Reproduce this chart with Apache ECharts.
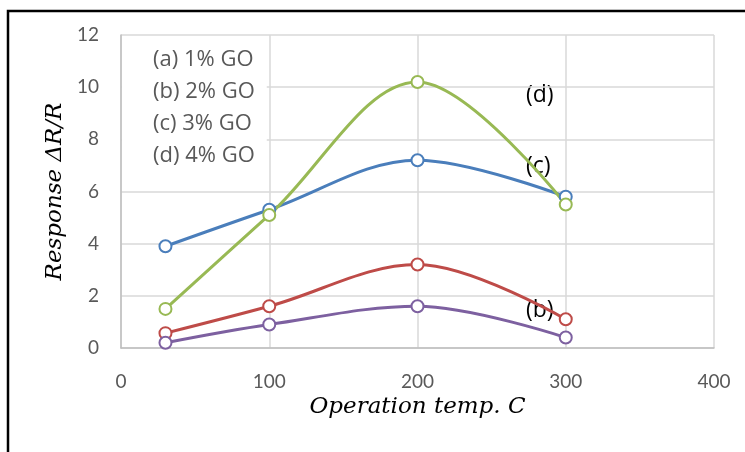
<!DOCTYPE html>
<html>
<head>
<meta charset="utf-8">
<script src="https://cdn.jsdelivr.net/npm/echarts@6/dist/echarts.min.js"></script>
<style>
  html, body { margin: 0; padding: 0; background: #fff; }
  #chart { width: 745px; height: 452px; }
</style>
</head>
<body>
<div id="chart"></div>
<script>
// operation temperature (C)
const temps = [30, 100, 200, 300];
const legendNames = ['(a) 1% GO', '(b) 2% GO', '(c) 3% GO', '(d) 4% GO'];
// response dR/R
const goA = [0.2, 0.9, 1.6, 0.4];
const goB = [0.57, 1.6, 3.2, 1.1];
const goC = [3.9, 5.3, 7.2, 5.8];
const goD = [1.5, 5.1, 10.2, 5.5];
const xTicks = [0, 100, 200, 300, 400];
const yTicks = [0, 2, 4, 6, 8, 10, 12];

const chart = echarts.init(document.getElementById('chart'));

function makeSeries(name, vals, color) {
  return {
    name: name,
    type: 'line',
    smooth: 0.35,
    data: vals.map((v, i) => [temps[i], v]),
    symbol: 'emptyCircle',
    symbolSize: 12,
    lineStyle: { color: color, width: 3 },
    itemStyle: { color: color, borderColor: color, borderWidth: 1.5 },
    emphasis: { disabled: true }
  };
}

chart.setOption({
  animation: false,
  grid: { left: 121, right: 31, top: 35, bottom: 104 },
  legend: {
    data: legendNames,
    orient: 'vertical',
    left: 122,
    top: 36,
    icon: 'none',
    itemWidth: 0,
    itemHeight: 14,
    itemGap: 8,
    padding: [12, 12, 8, 26],
    backgroundColor: '#fff',
    selectedMode: false,
    textStyle: { color: '#595959', fontSize: 22, fontFamily: 'Open Sans', lineHeight: 24 }
  },
  xAxis: {
    type: 'value',
    min: xTicks[0],
    max: xTicks[xTicks.length - 1],
    interval: 100,
    name: 'Operation temp. C',
    nameLocation: 'middle',
    nameGap: 48,
    nameTextStyle: { color: '#000', fontSize: 23, fontStyle: 'italic', fontFamily: 'DejaVu Serif' },
    axisLine: { show: true, lineStyle: { color: '#bfbfbf', width: 1.5 } },
    axisTick: { show: false },
    axisLabel: { color: '#595959', fontSize: 19, fontFamily: 'Lato', margin: 24 },
    splitLine: { show: true, lineStyle: { color: '#d9d9d9', width: 1.5 } }
  },
  yAxis: {
    type: 'value',
    min: yTicks[0],
    max: yTicks[yTicks.length - 1],
    interval: 2,
    name: 'Response \u0394R/R',
    nameLocation: 'middle',
    nameGap: 54,
    nameTextStyle: { color: '#000', fontSize: 23, fontStyle: 'italic', fontFamily: 'DejaVu Serif' },
    axisLine: { show: true, lineStyle: { color: '#bfbfbf', width: 1.5 } },
    axisTick: { show: false },
    axisLabel: { color: '#595959', fontSize: 19, fontFamily: 'Lato', margin: 22 },
    splitLine: { show: true, lineStyle: { color: '#d9d9d9', width: 1.5 } }
  },
  series: [
    makeSeries(legendNames[2], goC, '#4a7ebb'),
    makeSeries(legendNames[1], goB, '#be4b48'),
    makeSeries(legendNames[3], goD, '#98b954'),
    makeSeries(legendNames[0], goA, '#7d60a0')
  ],
  graphic: [
    {
      type: 'polyline',
      shape: { points: [[8, 452], [8, 11], [745, 11]] },
      style: { stroke: '#000', lineWidth: 2.5, fill: null }
    },
    { type: 'text', left: 526, top: 84, style: { text: '(d)', fill: '#000', fontSize: 23, fontFamily: 'Open Sans' } },
    { type: 'text', left: 526, top: 155, style: { text: '(c)', fill: '#000', fontSize: 23, fontFamily: 'Open Sans' } },
    { type: 'text', left: 526, top: 299, style: { text: '(b)', fill: '#000', fontSize: 23, fontFamily: 'Open Sans' } }
  ]
});
</script>
</body>
</html>
